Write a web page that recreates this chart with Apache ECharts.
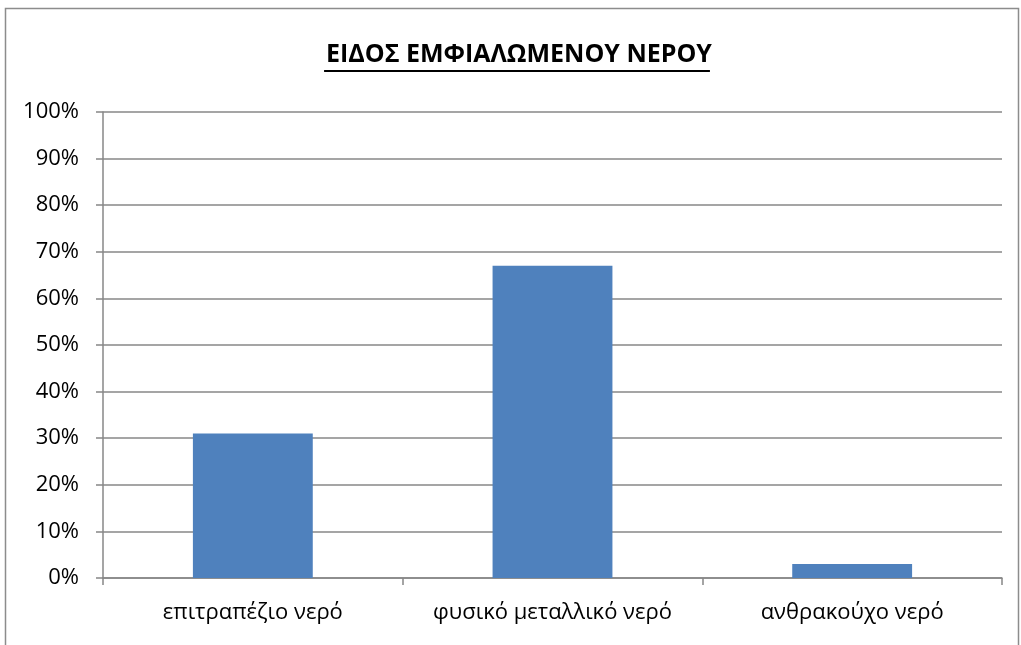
<!DOCTYPE html>
<html lang="el">
<head>
<meta charset="utf-8">
<title>ΕΙΔΟΣ ΕΜΦΙΑΛΩΜΕΝΟΥ ΝΕΡΟΥ</title>
<style>
  html, body { margin: 0; padding: 0; background: #fff; }
  #main { width: 1021px; height: 645px; }
</style>
</head>
<body>
<div id="main"></div>
<script src="https://cdn.jsdelivr.net/npm/echarts@6/dist/echarts.min.js"></script>
<script>
var titleText = 'ΕΙΔΟΣ ΕΜΦΙΑΛΩΜΕΝΟΥ ΝΕΡΟΥ';
var categories = ['επιτραπέζιο νερό', 'φυσικό μεταλλικό νερό', 'ανθρακούχο νερό'];
var shares = [31, 67, 3];   // percent
var yTicks = [0, 10, 20, 30, 40, 50, 60, 70, 80, 90, 100];

var fontName = '"Open Sans", "Noto Sans", sans-serif';
var titleSize = 25;

// measure title so the underline fits it
var ctx = document.createElement('canvas').getContext('2d');
ctx.font = 'bold ' + titleSize + 'px ' + fontName;
var titleW = ctx.measureText(titleText).width;
var titleX = 519 - titleW / 2;

var chart = echarts.init(document.getElementById('main'));
var gray = '#878787';

chart.setOption({
  animation: false,
  title: {
    text: titleText,
    left: titleX,
    top: 42,
    padding: 0,
    textStyle: { fontFamily: fontName, fontWeight: 'bold', fontSize: titleSize, color: '#000' }
  },
  graphic: [
    { type: 'rect', shape: { x: 5.5, y: 8.5, width: 1013, height: 700 },
      style: { fill: 'none', stroke: '#8c8c8c', lineWidth: 1.5 }, silent: true },
    { type: 'rect', shape: { x: titleX - 2, y: 70, width: titleW, height: 2 },
      style: { fill: '#000' }, silent: true }
  ],
  grid: { left: 103, right: 19, top: 112, bottom: 67 },
  xAxis: {
    type: 'category',
    data: categories,
    axisLine: { lineStyle: { color: gray, width: 1.5 } },
    axisTick: { show: true, length: 7, interval: 0, lineStyle: { color: gray, width: 1.5 } },
    axisLabel: { interval: 0, color: '#000', fontFamily: fontName, fontSize: 22, margin: 24 }
  },
  yAxis: {
    type: 'value',
    min: 0,
    max: 100,
    interval: 10,
    axisLine: { show: true, lineStyle: { color: gray, width: 1.5 } },
    axisTick: { show: true, length: 7, lineStyle: { color: gray, width: 1.5 } },
    splitLine: { lineStyle: { color: gray, width: 1.5 } },
    axisLabel: {
      color: '#000', fontFamily: fontName, fontSize: 22, margin: 24,
      formatter: function (v) { return yTicks.indexOf(v) >= 0 ? v + '%' : ''; }
    }
  },
  series: [{
    type: 'bar',
    data: shares,
    barWidth: '40%',
    itemStyle: { color: '#4f81bd' }
  }]
});
</script>
</body>
</html>
